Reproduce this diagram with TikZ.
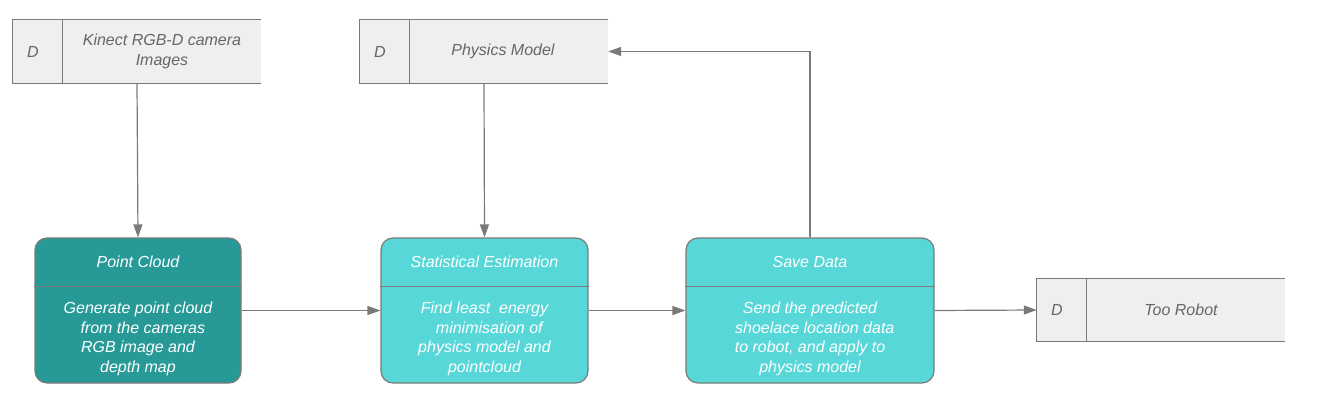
\documentclass[tikz,border=0pt]{standalone}
\usepackage{fontspec}
\setmainfont{Liberation Sans}
\usetikzlibrary{arrows.meta,positioning}

\definecolor{edgegray}{HTML}{7A7A7A}
\definecolor{storefill}{HTML}{EEF0EF}
\definecolor{storetext}{HTML}{666666}
\definecolor{darkteal}{HTML}{279A97}
\definecolor{lightteal}{HTML}{58D7D8}

\tikzset{
    store/.style={minimum width=248pt, minimum height=63pt, fill=storefill, inner sep=0pt},
    storetxt/.style={text=storetext, font=\fontsize{16}{19.5}\selectfont\itshape, align=center},
    proc/.style={draw=edgegray, line width=1.2pt, rounded corners=12pt, minimum height=145pt, inner sep=0pt},
    proctxt/.style={text=white, font=\fontsize{16}{19.5}\selectfont\itshape, align=center},
    flow/.style={draw=edgegray, line width=1.2pt, -{Triangle[length=13pt,width=9pt]}},
}

\begin{document}
\begin{tikzpicture}[x=1pt, y=-1pt]
    \useasboundingbox (0,0) rectangle (1328,401);

    % data stores
    \node[store] (kin) at (137,51.5) {};
    \node[store] (phy) at (484,51.5) {};
    \node[store] (rob) at (1161,310) {};
    \foreach \s in {kin,phy,rob}{
        \draw[edgegray, line width=1.2pt] (\s.north east) -- (\s.north west) -- (\s.south west) -- (\s.south east);
        \draw[edgegray, line width=1.2pt] ([xshift=50pt]\s.north west) -- ([xshift=50pt]\s.south west);
    }
    \node[storetxt] (kind) at ([xshift=20pt]kin.west) {D};
    \node[storetxt] (kint) at ([xshift=25pt]kin.center) {Kinect RGB-D camera\\Images};
    \node[storetxt] (phyd) at ([xshift=20pt]phy.west) {D};
    \node[storetxt] (phyt) at ([xshift=19pt]phy.center) {Physics Model};
    \node[storetxt] (robd) at ([xshift=20pt]rob.west) {D};
    \node[storetxt] (robt) at ([xshift=20pt]rob.center) {Too Robot};

    % processes
    \node[proc, fill=darkteal, minimum width=206pt] (pc) at (138,310.5) {};
    \node[proc, fill=lightteal, minimum width=207pt] (se) at (484.5,310.5) {};
    \node[proc, fill=lightteal, minimum width=248pt] (sd) at (810,310.5) {};
    \foreach \p in {pc,se,sd}{
        \draw[edgegray, line width=1.2pt] ([yshift=-49pt]\p.north west) -- ([yshift=-49pt]\p.north east);
    }
    \node[proctxt] (pct) at ([yshift=-24.5pt]pc.north) {Point Cloud};
    \node[proctxt] (pcb) at ([yshift=-101.5pt]pc.north) {Generate point cloud\\\hspace*{0.6em}from the cameras\\RGB image and\\depth map};
    \node[proctxt] (set) at ([yshift=-24.5pt]se.north) {Statistical Estimation};
    \node[proctxt] (seb) at ([yshift=-101.5pt]se.north) {Find least\ \ energy\\\hspace*{0.6em}minimisation of\\physics model and\\pointcloud};
    \node[proctxt] (sdt) at ([yshift=-24.5pt]sd.north) {Save Data};
    \node[proctxt] (sdb) at ([yshift=-101.5pt]sd.north) {Send the predicted\\\hspace*{0.6em}shoelace location data\\to robot, and apply to\\physics model};

    % connectors
    \draw[flow] (kin.south) -- (pc.north);
    \draw[flow] (phy.south) -- (se.north);
    \draw[flow] (pc.east) -- (se.west);
    \draw[flow] (se.east) -- (sd.west);
    \draw[flow] (sd.east) -- (rob.west);
    \draw[flow] (sd.north) |- (phy.east);
\end{tikzpicture}
\end{document}
